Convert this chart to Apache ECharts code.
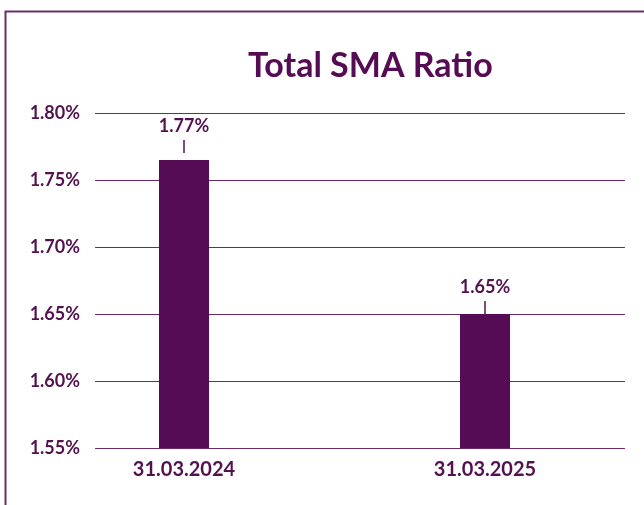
<!DOCTYPE html>
<html>
<head>
<meta charset="utf-8">
<script src="https://cdn.jsdelivr.net/npm/echarts@6/dist/echarts.min.js"></script>
<style>
  html, body { margin: 0; padding: 0; background: #fff; }
  #chart { width: 644px; height: 505px; }
</style>
</head>
<body>
<div id="chart"></div>
<script>
var categories = ['31.03.2024', '31.03.2025'];
var ratios = [1.765, 1.65];
var ratioLabels = ['1.77%', '1.65%'];

var purple = '#560b55';
var textColor = '#52124f';
var font = 'Lato, "Open Sans", sans-serif';

var myChart = echarts.init(document.getElementById('chart'));

// label with the little leader line under it
function barData() {
    var out = [];
    for (var i = 0; i < ratios.length; i++) {
        out.push({
            value: ratios[i],
            label: {
                distance: i == 0 ? 7 : 0,
                formatter: '{t|' + ratioLabels[i] + '}\n{l|}'
            }
        });
    }
    return out;
}

var option = {
    animation: false,
    title: {
        text: 'Total SMA Ratio',
        left: 243,
        top: 44,
        textStyle: {
            color: purple,
            fontSize: 34,
            fontWeight: 'bold',
            fontFamily: font
        }
    },
    graphic: [{
        type: 'rect',
        shape: { x: 5.5, y: 11.5, width: 800, height: 700 },
        style: { fill: 'none', stroke: '#6a2f68', lineWidth: 2 }
    }],
    grid: [
        { left: 95, right: 19, top: 113, bottom: 57 },
        { left: 33.5, right: 8.5, top: 113, bottom: 57 }
    ],
    xAxis: [
        { gridIndex: 0, type: 'category', data: categories, show: false },
        {
            gridIndex: 1,
            type: 'category',
            data: categories,
            axisLine: { show: false },
            axisTick: { show: false },
            axisLabel: {
                margin: 12,
                color: textColor,
                fontSize: 20,
                fontWeight: 'bold',
                fontFamily: font
            }
        }
    ],
    yAxis: [
        {
            gridIndex: 0,
            type: 'value',
            min: 1.55,
            max: 1.8,
            interval: 0.05,
            axisLine: { show: false },
            axisTick: { show: false },
            splitLine: { lineStyle: { color: '#6b2a68', width: 1 } },
            axisLabel: {
                margin: 15,
                color: textColor,
                fontSize: 18,
                fontWeight: 'bold',
                fontFamily: font,
                formatter: function (v) { return v.toFixed(2) + '%'; }
            }
        },
        {
            gridIndex: 1,
            type: 'value',
            min: 1.55,
            max: 1.8,
            interval: 0.05,
            show: false
        }
    ],
    series: [{
        type: 'bar',
        xAxisIndex: 1,
        yAxisIndex: 1,
        barWidth: 50,
        data: barData(),
        itemStyle: { color: purple },
        label: {
            show: true,
            position: 'top',
            rich: {
                t: {
                    color: textColor,
                    fontSize: 18,
                    fontWeight: 'bold',
                    fontFamily: font,
                    lineHeight: 28,
                    align: 'center'
                },
                l: {
                    width: 1.5,
                    height: 13,
                    lineHeight: 13,
                    backgroundColor: textColor,
                    align: 'center'
                }
            }
        }
    }]
};

myChart.setOption(option);
</script>
</body>
</html>
